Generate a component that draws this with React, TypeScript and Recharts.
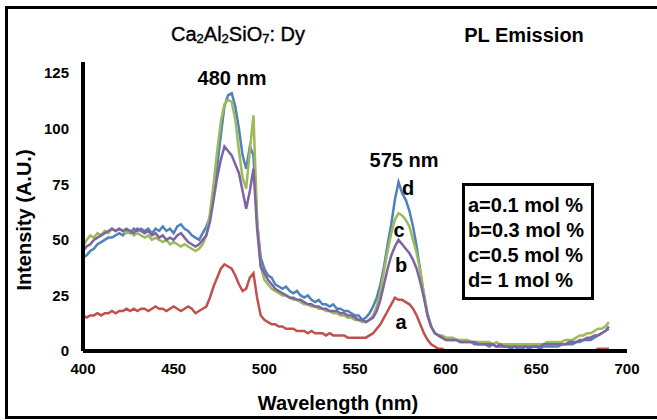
import { LineChart, Line, XAxis, YAxis } from "recharts";

// wavelength samples (nm)
const wavelengths = [
  400, 402, 404, 406, 408, 410, 412, 414, 416, 418,
  420, 422, 424, 426, 428, 430, 432, 434, 436, 438,
  440, 442, 444, 446, 448, 450, 452, 454, 456, 458,
  460, 462, 464, 466, 468, 470, 472, 474, 476, 478,
  480, 482, 484, 486, 488, 490, 492, 494, 496, 498,
  500, 502, 504, 506, 508, 510, 512, 514, 516, 518,
  520, 522, 524, 526, 528, 530, 532, 534, 536, 538,
  540, 542, 544, 546, 548, 550, 552, 554, 556, 558,
  560, 562, 564, 566, 568, 570, 572, 574, 576, 578,
  580, 582, 584, 586, 588, 590, 592, 594, 596, 598,
  600, 602, 604, 606, 608, 610, 612, 614, 616, 618,
  620, 622, 624, 626, 628, 630, 632, 634, 636, 638,
  640, 642, 644, 646, 648, 650, 652, 654, 656, 658,
  660, 662, 664, 666, 668, 670, 672, 674, 676, 678,
  680, 682, 684, 686, 688, 690,
];

// a = 0.1 mol %
const seriesA = [
  16, 15, 16, 16, 17, 16, 17, 17, 18, 17,
  18, 18, 19, 18, 19, 18, 19, 19, 18, 19,
  20, 19, 19, 18, 19, 20, 19, 18, 19, 20,
  19, 17, 18, 19, 20, 24, 29, 33, 37, 39,
  38, 37, 34, 30, 27, 28, 33, 35, 24, 16,
  14, 13, 12, 12, 11, 11, 10, 10, 10, 9,
  9, 9, 8, 9, 8, 8, 8, 7, 8, 7,
  7, 7, 7, 6, 6, 6, 6, 6, 6, 7,
  8, 10, 12, 15, 18, 21, 24, 23, 23, 22,
  21, 19, 16, 12, 8, 5, 3, 2, 1, 1,
  0, 0, 0, 0, 0, 0, 0, 0, 0, 0,
  0, 0, 0, 0, 0, 0, 0, 0, 0, 0,
  0, 0, 0, 0, 0, 0, 0, 0, 0, 0,
  0, 0, 0, 0, 0, 0, 0, 0, 0, 0,
  0, 0, 1, 1, 1, 1,
];

// b = 0.3 mol %
const seriesB = [
  45, 47, 48, 50, 51, 52, 53, 54, 55, 54,
  55, 54, 55, 54, 53, 55, 54, 53, 54, 52,
  53, 51, 52, 50, 51, 50, 52, 53, 51, 49,
  48, 47, 48, 50, 52, 58, 68, 78, 86, 92,
  90, 88, 84, 80, 72, 64, 72, 82, 55, 38,
  35, 32, 30, 28, 27, 26, 25, 24, 24, 23,
  23, 22, 21, 21, 20, 20, 19, 19, 18, 18,
  18, 17, 17, 16, 16, 15, 14, 14, 13, 14,
  15, 18, 23, 30, 37, 43, 47, 50, 48, 46,
  44, 41, 37, 31, 24, 16, 11, 8, 7, 6,
  5, 5, 5, 5, 4, 4, 4, 4, 4, 3,
  3, 3, 3, 3, 2, 3, 2, 2, 2, 2,
  2, 2, 2, 2, 2, 2, 2, 3, 3, 3,
  3, 3, 3, 3, 4, 4, 4, 5, 5, 6,
  6, 7, 7, 8, 9, 11,
];

// c = 0.5 mol %
const seriesC = [
  47, 50, 52, 51, 53, 52, 54, 53, 55, 54,
  55, 54, 53, 54, 52, 53, 52, 51, 52, 50,
  51, 50, 49, 50, 48, 49, 48, 47, 48, 47,
  46, 45, 46, 48, 52, 62, 75, 90, 103, 111,
  113, 112, 104, 90, 78, 73, 90, 106, 60, 38,
  32, 30, 28, 27, 26, 25, 25, 24, 23, 23,
  22, 21, 21, 20, 20, 19, 19, 18, 18, 17,
  17, 16, 16, 15, 15, 14, 14, 13, 13, 14,
  16, 20, 27, 36, 45, 53, 59, 62, 61, 59,
  56, 50, 44, 36, 26, 17, 11, 8, 7, 7,
  6, 6, 6, 5, 5, 5, 5, 4, 4, 4,
  4, 4, 4, 3, 4, 3, 3, 3, 3, 3,
  3, 3, 3, 3, 3, 3, 3, 3, 4, 4,
  4, 4, 4, 5, 5, 5, 6, 7, 7, 8,
  8, 9, 10, 10, 11, 13,
];

// d = 1 mol %
const seriesD = [
  42, 43, 45, 46, 48, 49, 50, 51, 51, 52,
  53, 52, 54, 53, 55, 54, 55, 54, 55, 53,
  55, 54, 56, 54, 55, 53, 56, 57, 55, 54,
  52, 51, 50, 53, 56, 60, 72, 83, 97, 110,
  115, 116, 110, 100, 88, 82, 92, 88, 58, 42,
  37, 34, 33, 30, 29, 28, 29, 27, 26, 27,
  25, 24, 25, 23, 22, 23, 21, 21, 20, 21,
  19, 19, 18, 18, 17, 16, 16, 14, 15, 17,
  20, 24, 30, 38, 48, 57, 68, 76, 71, 68,
  63, 56, 47, 36, 25, 16, 11, 8, 7, 6,
  6, 5, 5, 5, 4, 4, 4, 4, 3, 3,
  3, 3, 2, 3, 2, 2, 2, 2, 1, 2,
  1, 1, 2, 1, 2, 2, 1, 2, 2, 2,
  2, 2, 3, 3, 3, 3, 4, 4, 5, 5,
  5, 6, 7, 8, 9, 10,
];

const xTicks = [400, 450, 500, 550, 600, 650, 700];
const yTicks = [0, 25, 50, 75, 100, 125];
const legendLines = ["a=0.1 mol %", "b=0.3 mol %", "c=0.5 mol %", "d= 1 mol %"];

const data = wavelengths.map((w, i) => ({
  w,
  a: seriesA[i],
  b: seriesB[i],
  c: seriesC[i],
  d: seriesD[i],
}));

const FONT = "'Liberation Sans', Arial, sans-serif";
const tickStyle = {
  fontFamily: "'Liberation Sans Narrow', 'Liberation Sans', Arial, sans-serif",
  fontSize: 15,
  fontWeight: 700,
  fill: "#000",
};

function Txt(props: { x: number; y: number; size?: number; bold?: boolean; children: any; rotate?: boolean }) {
  const { x, y, size = 20, bold = true, rotate } = props;
  return (
    <div
      style={{
        position: "absolute",
        left: x,
        top: y,
        transform: `translate(-50%, -50%)${rotate ? " rotate(-90deg)" : ""}`,
        fontFamily: FONT,
        fontSize: size,
        fontWeight: bold ? 700 : 400,
        lineHeight: 1,
        whiteSpace: "nowrap",
        color: "#000",
      }}
    >
      {props.children}
    </div>
  );
}

export default function App() {
  return (
    <div
      style={{
        position: "absolute",
        left: 0,
        top: 0,
        width: 657,
        height: 420,
        overflow: "hidden",
        background: "#fff",
      }}
    >
      <LineChart
        width={657}
        height={420}
        data={data}
        margin={{ top: 62, right: 30, left: 0, bottom: 0 }}
      >
        <XAxis
          dataKey="w"
          type="number"
          domain={[400, 700]}
          ticks={xTicks}
          tick={tickStyle}
          tickLine={false}
          tickSize={0}
          tickMargin={12}
          height={69}
          axisLine={{ stroke: "#000", strokeWidth: 4 }}
        />
        <YAxis
          type="number"
          domain={[0, 130]}
          ticks={yTicks}
          tick={tickStyle}
          tickLine={false}
          tickSize={0}
          tickMargin={14}
          width={83}
          axisLine={{ stroke: "#000", strokeWidth: 4 }}
        />
        <Line dataKey="d" type="linear" stroke="#4F81BD" strokeWidth={2.5} dot={false} isAnimationActive={false} />
        <Line dataKey="c" type="linear" stroke="#9BBB59" strokeWidth={2.5} dot={false} isAnimationActive={false} />
        <Line dataKey="b" type="linear" stroke="#8064A2" strokeWidth={2.5} dot={false} isAnimationActive={false} />
        <Line dataKey="a" type="linear" stroke="#C0504D" strokeWidth={2.5} dot={false} isAnimationActive={false} />
      </LineChart>

      {/* outer frame */}
      <div
        style={{
          position: "absolute",
          left: 5,
          top: 6,
          width: 680,
          height: 413,
          border: "3px solid #000",
          boxSizing: "border-box",
        }}
      />

      <Txt x={238} y={34} bold={false}>
        <span style={{ WebkitTextStroke: "0.4px #000" }}>
          Ca<sub style={{ fontSize: 13, verticalAlign: "-2px" }}>2</sub>Al
          <sub style={{ fontSize: 13, verticalAlign: "-2px" }}>2</sub>SiO
          <sub style={{ fontSize: 13, verticalAlign: "-2px" }}>7</sub>: Dy
        </span>
      </Txt>
      <Txt x={524} y={35}>PL Emission</Txt>
      <Txt x={232} y={78}>480 nm</Txt>
      <Txt x={404} y={160}>575 nm</Txt>
      <Txt x={408} y={188}>d</Txt>
      <Txt x={399} y={230}>c</Txt>
      <Txt x={401} y={265}>b</Txt>
      <Txt x={401} y={322}>a</Txt>
      <Txt x={338} y={403}>Wavelength (nm)</Txt>
      <Txt x={24} y={220} rotate>
        Intensity (A.U.)
      </Txt>

      {/* legend box */}
      <div
        style={{
          position: "absolute",
          left: 462,
          top: 183,
          width: 132,
          height: 117,
          border: "3px solid #000",
          boxSizing: "border-box",
        }}
      />
      {legendLines.map((s, i) => (
        <div
          key={s}
          style={{
            position: "absolute",
            left: 468,
            top: 205 + i * 25,
            transform: "translateY(-50%)",
            fontFamily: FONT,
            fontSize: 20,
            fontWeight: 700,
            lineHeight: 1,
            whiteSpace: "nowrap",
          }}
        >
          {s}
        </div>
      ))}
    </div>
  );
}
